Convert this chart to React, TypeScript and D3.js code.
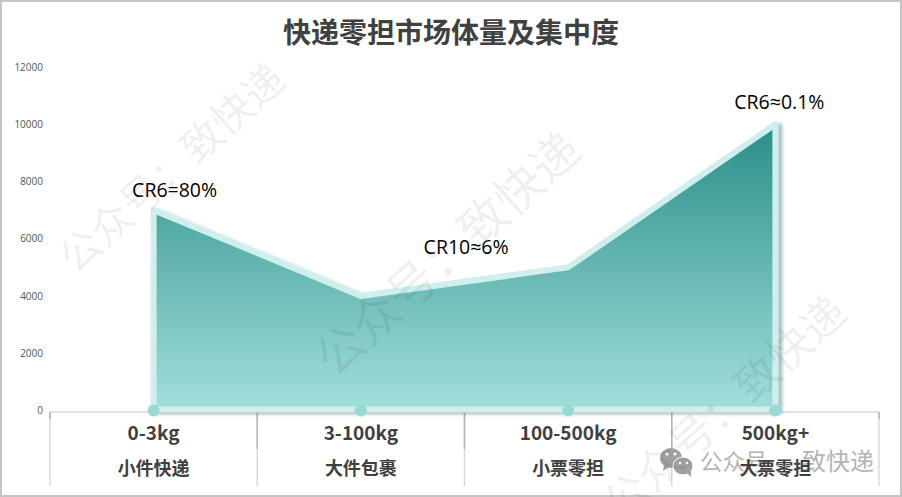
import { useRef, useEffect } from 'react';
import { select, scaleBand, scaleLinear, line } from 'd3';

const categories = ['0-3kg', '3-100kg', '100-500kg', '500kg+'];
const subCategories = ['小件快递', '大件包裹', '小票零担', '大票零担'];
const volumes = [7000, 4000, 5000, 10000];
const yTicks = [0, 2000, 4000, 6000, 8000, 10000, 12000];
const crLabels = ['CR6=80%', 'CR10≈6%', 'CR6≈0.1%'];
const crIndex = [0, 2, 3];

const cjkFont = '"Noto Sans CJK SC", "Noto Sans", sans-serif';
const width = 902;
const height = 497;

function App() {
    const graphRef = useRef<SVGSVGElement | null>(null);

    useEffect(() => {
        const graph = select(graphRef.current);
        graph.selectAll('*').remove();

        // Set scales
        const xScale = scaleBand<string>().domain(categories).range([50, 879]);
        const yScale = scaleLinear().domain([0, 12000]).range([410.5, 67]);
        const cx = (i: number) => (xScale(categories[i]) as number) + xScale.bandwidth() / 2;

        // Gradient and shadow
        const defs = graph.append('defs');
        const gradient = defs
            .append('linearGradient')
            .attr('id', 'areaFill')
            .attr('gradientUnits', 'userSpaceOnUse')
            .attr('x1', 0)
            .attr('x2', 0)
            .attr('y1', yScale(10000))
            .attr('y2', yScale(0));
        gradient.append('stop').attr('offset', 0).attr('stop-color', '#2a8e88');
        gradient.append('stop').attr('offset', 1).attr('stop-color', '#a2dfdc');

        const shadow = defs
            .append('filter')
            .attr('id', 'areaShadow')
            .attr('x', '-5%')
            .attr('y', '-5%')
            .attr('width', '110%')
            .attr('height', '110%');
        shadow
            .append('feDropShadow')
            .attr('dx', 4)
            .attr('dy', 2)
            .attr('stdDeviation', 1.5)
            .attr('flood-color', '#2a6f6b')
            .attr('flood-opacity', 0.4);

        // Frame
        graph
            .append('rect')
            .attr('x', 1)
            .attr('y', 1)
            .attr('width', width - 2)
            .attr('height', height - 2)
            .attr('fill', '#fff')
            .attr('stroke', '#c4c4c4')
            .attr('stroke-width', 2);

        // Title
        graph
            .append('text')
            .attr('x', 451)
            .attr('y', 43)
            .attr('text-anchor', 'middle')
            .attr('font-family', cjkFont)
            .attr('font-weight', 700)
            .attr('font-size', 28)
            .attr('fill', '#404040')
            .text('快递零担市场体量及集中度');

        // Y tick labels
        graph
            .append('g')
            .selectAll('text')
            .data(yTicks)
            .join('text')
            .attr('x', 43)
            .attr('y', (d) => yScale(d))
            .attr('dy', '0.35em')
            .attr('text-anchor', 'end')
            .attr('font-family', '"Open Sans", sans-serif')
            .attr('font-size', 10)
            .attr('fill', '#555')
            .text((d) => d);

        // Category table lines
        const axisY = yScale(0) + 1.5;
        const table = graph.append('g');
        table
            .append('line')
            .attr('x1', 50)
            .attr('x2', 879)
            .attr('y1', axisY)
            .attr('y2', axisY)
            .attr('stroke', '#d9d9d9')
            .attr('stroke-width', 1.5);
        const edges = [...categories.map((c) => xScale(c) as number), 879];
        table
            .selectAll('line.sep')
            .data(edges)
            .join('line')
            .attr('class', 'sep')
            .attr('x1', (d) => d)
            .attr('x2', (d) => d)
            .attr('y1', axisY)
            .attr('y2', 486)
            .attr('stroke', '#d9d9d9')
            .attr('stroke-width', 1.5);
        table
            .selectAll('line.tick')
            .data(edges)
            .join('line')
            .attr('class', 'tick')
            .attr('x1', (d) => d)
            .attr('x2', (d) => d)
            .attr('y1', axisY)
            .attr('y2', (d, i) => (i === 0 || i === edges.length - 1 ? 419 : 449))
            .attr('stroke', '#b5b5b5')
            .attr('stroke-width', 1.5);

        // Area with outline
        const outline = line<number>()
            .x((d, i) => cx(i))
            .y((d) => yScale(d));
        const top = outline(volumes) as string;
        const lastX = cx(volumes.length - 1);
        const firstX = cx(0);
        graph
            .append('path')
            .attr('d', `${top}L${lastX},${yScale(0) - 1}L${firstX},${yScale(0) - 1}Z`)
            .attr('fill', 'url(#areaFill)')
            .attr('stroke', '#d0eeec')
            .attr('stroke-width', 6)
            .attr('stroke-linejoin', 'round')
            .attr('filter', 'url(#areaShadow)');

        // Points on the axis
        graph
            .append('g')
            .selectAll('circle')
            .data(categories)
            .join('circle')
            .attr('cx', (d, i) => cx(i))
            .attr('cy', yScale(0))
            .attr('r', 6)
            .attr('fill', '#9adad6');

        // Account badge, bottom right (sits under the labels)
        const badge = graph.append('g');
        badge.append('ellipse').attr('cx', 671).attr('cy', 458).attr('rx', 11).attr('ry', 10).attr('fill', '#a0a0a0');
        badge
            .append('ellipse')
            .attr('cx', 683)
            .attr('cy', 466)
            .attr('rx', 10)
            .attr('ry', 9)
            .attr('fill', '#a0a0a0')
            .attr('stroke', '#fff');
        badge.append('path').attr('d', 'M664,465 L663,471 L669,467 Z').attr('fill', '#a0a0a0');
        badge.append('path').attr('d', 'M687,473 L691,477 L691,471 Z').attr('fill', '#a0a0a0');
        [
            [667, 454, 1.5],
            [675, 454, 1.5],
            [680, 463, 1.2],
            [687, 463, 1.2],
        ].forEach(([ex, ey, er]) => {
            badge.append('circle').attr('cx', ex).attr('cy', ey).attr('r', er).attr('fill', '#fff');
        });
        badge
            .append('text')
            .attr('x', 700)
            .attr('y', 470)
            .attr('font-family', cjkFont)
            .attr('font-size', 22.5)
            .attr('fill', '#b4b4b4')
            .text('公众号');
        badge
            .append('text')
            .attr('x', 802)
            .attr('y', 470)
            .attr('font-family', cjkFont)
            .attr('font-size', 24)
            .attr('fill', '#b4b4b4')
            .text('致快递');

        // Category labels
        graph
            .append('g')
            .selectAll('text')
            .data(categories)
            .join('text')
            .attr('x', (d, i) => cx(i))
            .attr('y', 440)
            .attr('text-anchor', 'middle')
            .attr('font-family', cjkFont)
            .attr('font-weight', 700)
            .attr('font-size', 19)
            .attr('fill', '#404040')
            .text((d) => d);
        graph
            .append('g')
            .selectAll('text')
            .data(subCategories)
            .join('text')
            .attr('x', (d, i) => cx(i))
            .attr('y', 475)
            .attr('text-anchor', 'middle')
            .attr('font-family', cjkFont)
            .attr('font-weight', 700)
            .attr('font-size', 18)
            .attr('fill', '#404040')
            .text((d) => d);

        // CR annotations, offset by hand from their points
        const crOffsets = [
            [21, -13],
            [-102, -13],
            [4, -15],
        ];
        graph
            .append('g')
            .selectAll('text')
            .data(crLabels)
            .join('text')
            .attr('x', (d, i) => cx(crIndex[i]) + crOffsets[i][0])
            .attr('y', (d, i) => yScale(volumes[crIndex[i]]) + crOffsets[i][1])
            .attr('text-anchor', 'middle')
            .attr('font-family', '"Open Sans", "Noto Sans", sans-serif')
            .attr('font-size', 19.5)
            .attr('fill', '#000')
            .text((d) => d);

        // Watermarks, over everything
        const marks = graph.append('g');
        [
            [172, 168.5, 41],
            [448, 254, 48],
            [725, 408, 44],
        ].forEach(([mx, my, size]) => {
            marks
                .append('text')
                .attr('transform', `translate(${mx},${my}) rotate(-42)`)
                .attr('text-anchor', 'middle')
                .attr('dy', '0.35em')
                .attr('font-family', cjkFont)
                .attr('font-size', size)
                .attr('fill', '#000')
                .attr('fill-opacity', 0.07)
                .text('公众号：致快递');
        });
    }, []);

    return (
        <div style={{ position: 'absolute', left: 0, top: 0 }}>
            <svg ref={graphRef} width={width} height={height} style={{ display: 'block' }}></svg>
        </div>
    );
}

export default App;
